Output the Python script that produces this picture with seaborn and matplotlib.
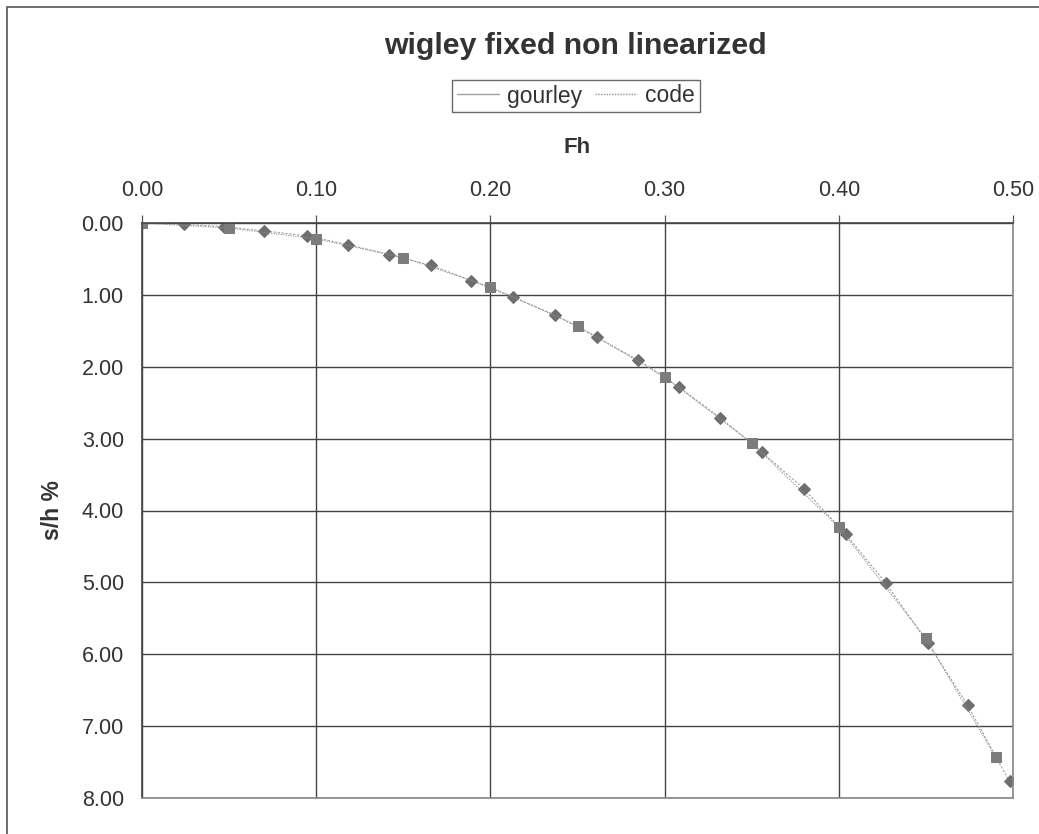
import matplotlib
matplotlib.use("Agg")
import matplotlib.pyplot as plt
from matplotlib.lines import Line2D
from matplotlib.patches import Rectangle
import seaborn as sns
import pandas as pd

# gourley series (diamonds)
gourley_fh = [0.000, 0.024, 0.047, 0.070, 0.095, 0.118, 0.142, 0.166, 0.189, 0.213,
              0.237, 0.261, 0.285, 0.308, 0.332, 0.356, 0.380, 0.404, 0.427, 0.451,
              0.474, 0.498]
gourley_sh = [0.00, 0.02, 0.05, 0.11, 0.18, 0.30, 0.44, 0.59, 0.80, 1.03,
              1.28, 1.59, 1.91, 2.28, 2.71, 3.19, 3.70, 4.33, 5.01, 5.84,
              6.71, 7.77]

# code series (squares)
code_fh = [0.00, 0.05, 0.10, 0.15, 0.20, 0.25, 0.30, 0.35, 0.40, 0.45, 0.49]
code_sh = [0.00, 0.07, 0.22, 0.48, 0.89, 1.43, 2.14, 3.06, 4.23, 5.78, 7.43]

x_ticks = [0.0, 0.1, 0.2, 0.3, 0.4, 0.5]
y_ticks = [0, 1, 2, 3, 4, 5, 6, 7, 8]

df_g = pd.DataFrame({"Fh": gourley_fh, "s/h %": gourley_sh})
df_c = pd.DataFrame({"Fh": code_fh, "s/h %": code_sh})

sns.set_theme(style="white")
plt.rcParams["font.family"] = ["Liberation Sans", "DejaVu Sans"]

W, H = 1039, 834
fig = plt.figure(figsize=(W / 100, H / 100), dpi=100)
ax = fig.add_axes([142 / W, 1 - 798 / H, (1013 - 142) / W, (798 - 223) / H])

sns.lineplot(data=df_g, x="Fh", y="s/h %", ax=ax, color="#a0a0a0", lw=0.8,
             linestyle=(0, (2, 1.5)), marker="D", markersize=6.5,
             markerfacecolor="#6e6e6e", markeredgecolor="#6e6e6e", sort=False)
sns.lineplot(data=df_c, x="Fh", y="s/h %", ax=ax, color="#909090", lw=0.8,
             linestyle=(0, (1, 1.2)), marker="s", markersize=7,
             markerfacecolor="#7c7c7c", markeredgecolor="#7c7c7c", sort=False)

ax.set_xlim(0, 0.5)
ax.set_ylim(8, 0)
ax.set_xticks(x_ticks)
ax.set_yticks(y_ticks)
ax.set_xticklabels([f"{v:.2f}" for v in x_ticks], fontsize=15.5, color="#333333")
ax.set_yticklabels([f"{v:.2f}" for v in y_ticks], fontsize=15.5, color="#333333")
ax.xaxis.tick_top()
ax.xaxis.set_label_position("top")
ax.tick_params(axis="both", which="both", length=6, width=0.9, color="#555555",
               direction="out")
ax.tick_params(axis="x", pad=10)
ax.tick_params(axis="y", pad=7)
ax.set_xlabel("Fh", fontsize=16, fontweight="bold", color="#333333", labelpad=19)
ax.set_ylabel("s/h %", fontsize=16.5, fontweight="bold", color="#333333", labelpad=13)

ax.grid(True, color="#444444", lw=1.0)
ax.set_axisbelow(True)
for sp in ax.spines.values():
    sp.set_visible(True)
    sp.set_color("#888888")
    sp.set_linewidth(1.2)
ax.spines["left"].set_color("#444444")
ax.spines["top"].set_color("#444444")

fig.text(575 / W, 1 - 46 / H, "wigley fixed non linearized", ha="center", va="center",
         fontsize=21.8, fontweight="bold", color="#333333")

handles = [Line2D([], [], color="#a0a0a0", lw=1.0),
           Line2D([], [], color="#909090", lw=1.0, linestyle=(0, (1, 1)))]
leg = fig.legend(handles, ["gourley", "code"], loc="center",
                 bbox_to_anchor=(576 / W, 1 - 96 / H), ncol=2, fontsize=16.5,
                 frameon=True, fancybox=False, handlelength=1.85, handletextpad=0.35,
                 columnspacing=0.55, borderpad=0.2, borderaxespad=0)
leg.get_frame().set_edgecolor("#444444")
leg.get_frame().set_linewidth(1.0)
for t in leg.get_texts():
    t.set_color("#333333")

# outer chart border
fig.patches.append(Rectangle((7 / W, -0.05), 1.2, 1 - 7 / H + 0.05,
                             transform=fig.transFigure, fill=False,
                             edgecolor="#555555", lw=1.2))

fig.savefig("out.png", dpi=100)
